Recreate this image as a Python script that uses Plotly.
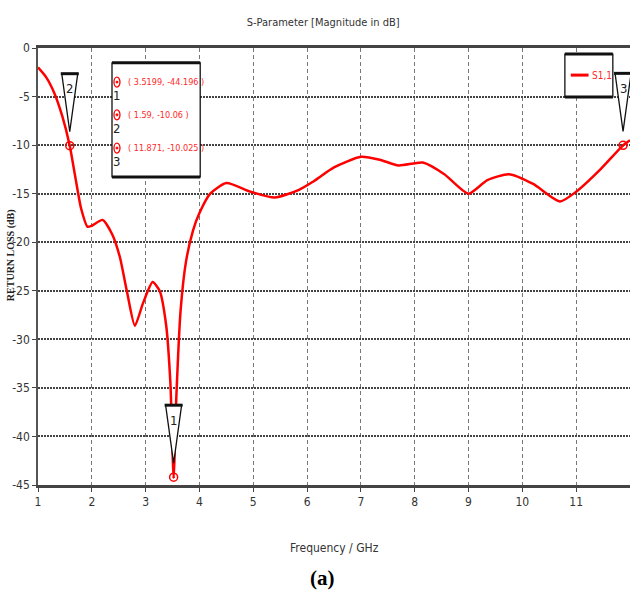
import plotly.graph_objects as go

# ---- data ----
freq_ghz = [1.0, 1.15, 1.3, 1.45, 1.59, 1.7, 1.8, 1.92, 2.0, 2.2, 2.38, 2.52, 2.65, 2.8,
            2.95, 3.13, 3.26, 3.38, 3.46, 3.5199, 3.57, 3.65, 3.75, 3.88, 4.0, 4.2, 4.5,
            4.95, 5.4, 5.85, 6.1, 6.5, 7.0, 7.35, 7.7, 8.15, 8.55, 9.0, 9.35, 9.75, 10.2,
            10.7, 11.0, 11.45, 11.871, 12.0]
s11_db = [-2.0, -3.0, -4.6, -7.0, -10.06, -13.5, -16.5, -18.4, -18.3, -17.7, -19.2, -21.5,
          -25.0, -28.6, -26.3, -24.1, -25.0, -28.5, -34.5, -44.196, -36.0, -27.0, -22.0,
          -18.8, -17.0, -15.0, -13.9, -14.8, -15.4, -14.6, -13.8, -12.3, -11.2, -11.5,
          -12.1, -11.8, -13.0, -15.0, -13.6, -13.0, -14.0, -15.8, -14.8, -12.5, -10.025, -9.5]

marker_ids = ["1", "2", "3"]
marker_freq = [3.5199, 1.59, 11.871]
marker_db = [-44.196, -10.06, -10.025]

x_ticks = list(range(1, 13))
x_tick_labels = [str(v) for v in x_ticks]
y_ticks = [0, -5, -10, -15, -20, -25, -30, -35, -40, -45]
y_tick_labels = [str(v) for v in y_ticks]

series_name = "S1,1"
title_text = "S-Parameter [Magnitude in dB]"
x_title = "Frequency / GHz"
y_title = "RETURN LOSS (dB)"
caption = "(a)"

NARROW = "Liberation Sans Narrow, DejaVu Sans Condensed, Arial Narrow, sans-serif"
SERIF = "Liberation Serif, Times New Roman, serif"
RED = "#ff0000"
TXT_RED = "#ff2a2a"

fig = go.Figure()
fig.add_trace(go.Scatter(x=freq_ghz, y=s11_db, mode="lines", name=series_name,
                         line=dict(color=RED, width=2.5, shape="spline", smoothing=0.6),
                         showlegend=False, hoverinfo="x+y"))
fig.add_trace(go.Scatter(x=marker_freq, y=marker_db, mode="markers", showlegend=False,
                         marker=dict(symbol="circle-open-dot", size=8, color=RED,
                                     line=dict(width=1.5, color=RED))))

shapes = []
annotations = []

# marker flags (inverted triangles above each marker)
for mid, fx, fy in zip(marker_ids, marker_freq, marker_db):
    shapes.append(dict(type="path", xref="x", yref="y", xsizemode="pixel", ysizemode="pixel",
                       xanchor=fx, yanchor=fy, path="M -8,72 L 8,72 L 0,14 Z",
                       line=dict(color="#111", width=1.3), fillcolor="white", layer="above"))
    shapes.append(dict(type="path", xref="x", yref="y", xsizemode="pixel", ysizemode="pixel",
                       xanchor=fx, yanchor=fy, path="M -9,72 L 9,72",
                       line=dict(color="#111", width=3), layer="above"))
    annotations.append(dict(x=fx, y=fy, xref="x", yref="y", text=mid, showarrow=False,
                            xanchor="center", yanchor="middle", yshift=57,
                            font=dict(family=NARROW, size=13, color="#222")))

# marker readout box
bx0, bx1, by0, by1 = 0.125, 0.274, 0.705, 0.966
shapes.append(dict(type="rect", xref="paper", yref="paper", x0=bx0, x1=bx1, y0=by0, y1=by1,
                   line=dict(color="#111", width=1.3), fillcolor="white", layer="above"))
for yy in (by0, by1):
    shapes.append(dict(type="line", xref="paper", yref="paper", x0=bx0, x1=bx1, y0=yy, y1=yy,
                       line=dict(color="#111", width=3), layer="above"))
row_y = [0.922, 0.847, 0.771]
for mid, fx, fy, ry in zip(marker_ids, marker_freq, marker_db, row_y):
    shapes.append(dict(type="circle", xref="paper", yref="paper", xsizemode="pixel",
                       ysizemode="pixel", xanchor=0.1334, yanchor=ry, x0=-3, x1=3, y0=-5, y1=5,
                       line=dict(color=RED, width=1.3), layer="above"))
    shapes.append(dict(type="circle", xref="paper", yref="paper", xsizemode="pixel",
                       ysizemode="pixel", xanchor=0.1334, yanchor=ry, x0=-1, x1=1, y0=-1, y1=1,
                       line=dict(color=RED, width=1), fillcolor=RED, layer="above"))
    annotations.append(dict(x=0.148, y=ry, xref="paper", yref="paper", xanchor="left",
                            yanchor="middle", showarrow=False,
                            text=f"( {fx:g}, {fy:g} )",
                            font=dict(family=NARROW, size=9, color=TXT_RED)))
    annotations.append(dict(x=0.1334, y=ry - 0.031, xref="paper", yref="paper",
                            xanchor="center", yanchor="middle", showarrow=False, text=mid,
                            font=dict(family=NARROW, size=13, color="#222")))

# legend box
lx0, lx1, ly0, ly1 = 0.890, 0.971, 0.888, 0.986
shapes.append(dict(type="rect", xref="paper", yref="paper", x0=lx0, x1=lx1, y0=ly0, y1=ly1,
                   line=dict(color="#111", width=1.3), fillcolor="white", layer="above"))
for yy in (ly0, ly1):
    shapes.append(dict(type="line", xref="paper", yref="paper", x0=lx0, x1=lx1, y0=yy, y1=yy,
                       line=dict(color="#111", width=3), layer="above"))
shapes.append(dict(type="line", xref="paper", yref="paper", x0=0.900, x1=0.930, y0=0.938,
                   y1=0.938, line=dict(color=RED, width=3), layer="above"))
annotations.append(dict(x=0.933, y=0.938, xref="paper", yref="paper", xanchor="left",
                        yanchor="middle", showarrow=False, text=series_name,
                        font=dict(family=NARROW, size=10, color=TXT_RED)))

# axis titles and caption
annotations.append(dict(x=0.5, y=-0.144, xref="paper", yref="paper", showarrow=False,
                        xanchor="center", yanchor="middle",
                        text=x_title, font=dict(family=NARROW, size=12, color="#333")))
annotations.append(dict(x=-0.0456, y=0.526, xref="paper", yref="paper", showarrow=False,
                        xanchor="center", yanchor="middle",
                        text=f"<b>{y_title}</b>", textangle=-90,
                        font=dict(family=SERIF, size=10, color="#222")))
annotations.append(dict(x=0.481, y=-0.213, xref="paper", yref="paper", showarrow=False,
                        xanchor="center", yanchor="middle",
                        text=f"<b>{caption}</b>", font=dict(family=SERIF, size=21, color="#000")))

fig.update_layout(
    width=630, height=592,
    margin=dict(l=38, r=0, t=48, b=107),
    paper_bgcolor="white", plot_bgcolor="white",
    title=dict(text=title_text, x=0.513, xref="container", y=1 - 22 / 592,
               yref="container", xanchor="center", yanchor="middle",
               font=dict(family=NARROW, size=11, color="#333")),
    shapes=shapes, annotations=annotations,
    xaxis=dict(range=[1, 12], tickvals=x_ticks, ticktext=x_tick_labels,
               showgrid=True, gridcolor="#777", gridwidth=1, griddash="4px,3px",
               showline=True, linecolor="#444", linewidth=2.5, mirror=True,
               ticks="outside", ticklen=4, tickcolor="#444", zeroline=False,
               tickfont=dict(family=NARROW, size=12, color="#333")),
    yaxis=dict(range=[-45, 0], tickvals=y_ticks, ticktext=y_tick_labels,
               showgrid=True, gridcolor="#444", gridwidth=1.5, griddash="1.5px,1.5px",
               showline=True, linecolor="#555", linewidth=1.5,
               ticks="outside", ticklen=4, tickcolor="#444", zeroline=False,
               tickfont=dict(family=NARROW, size=12, color="#333")),
)

fig.write_html("out.html")
